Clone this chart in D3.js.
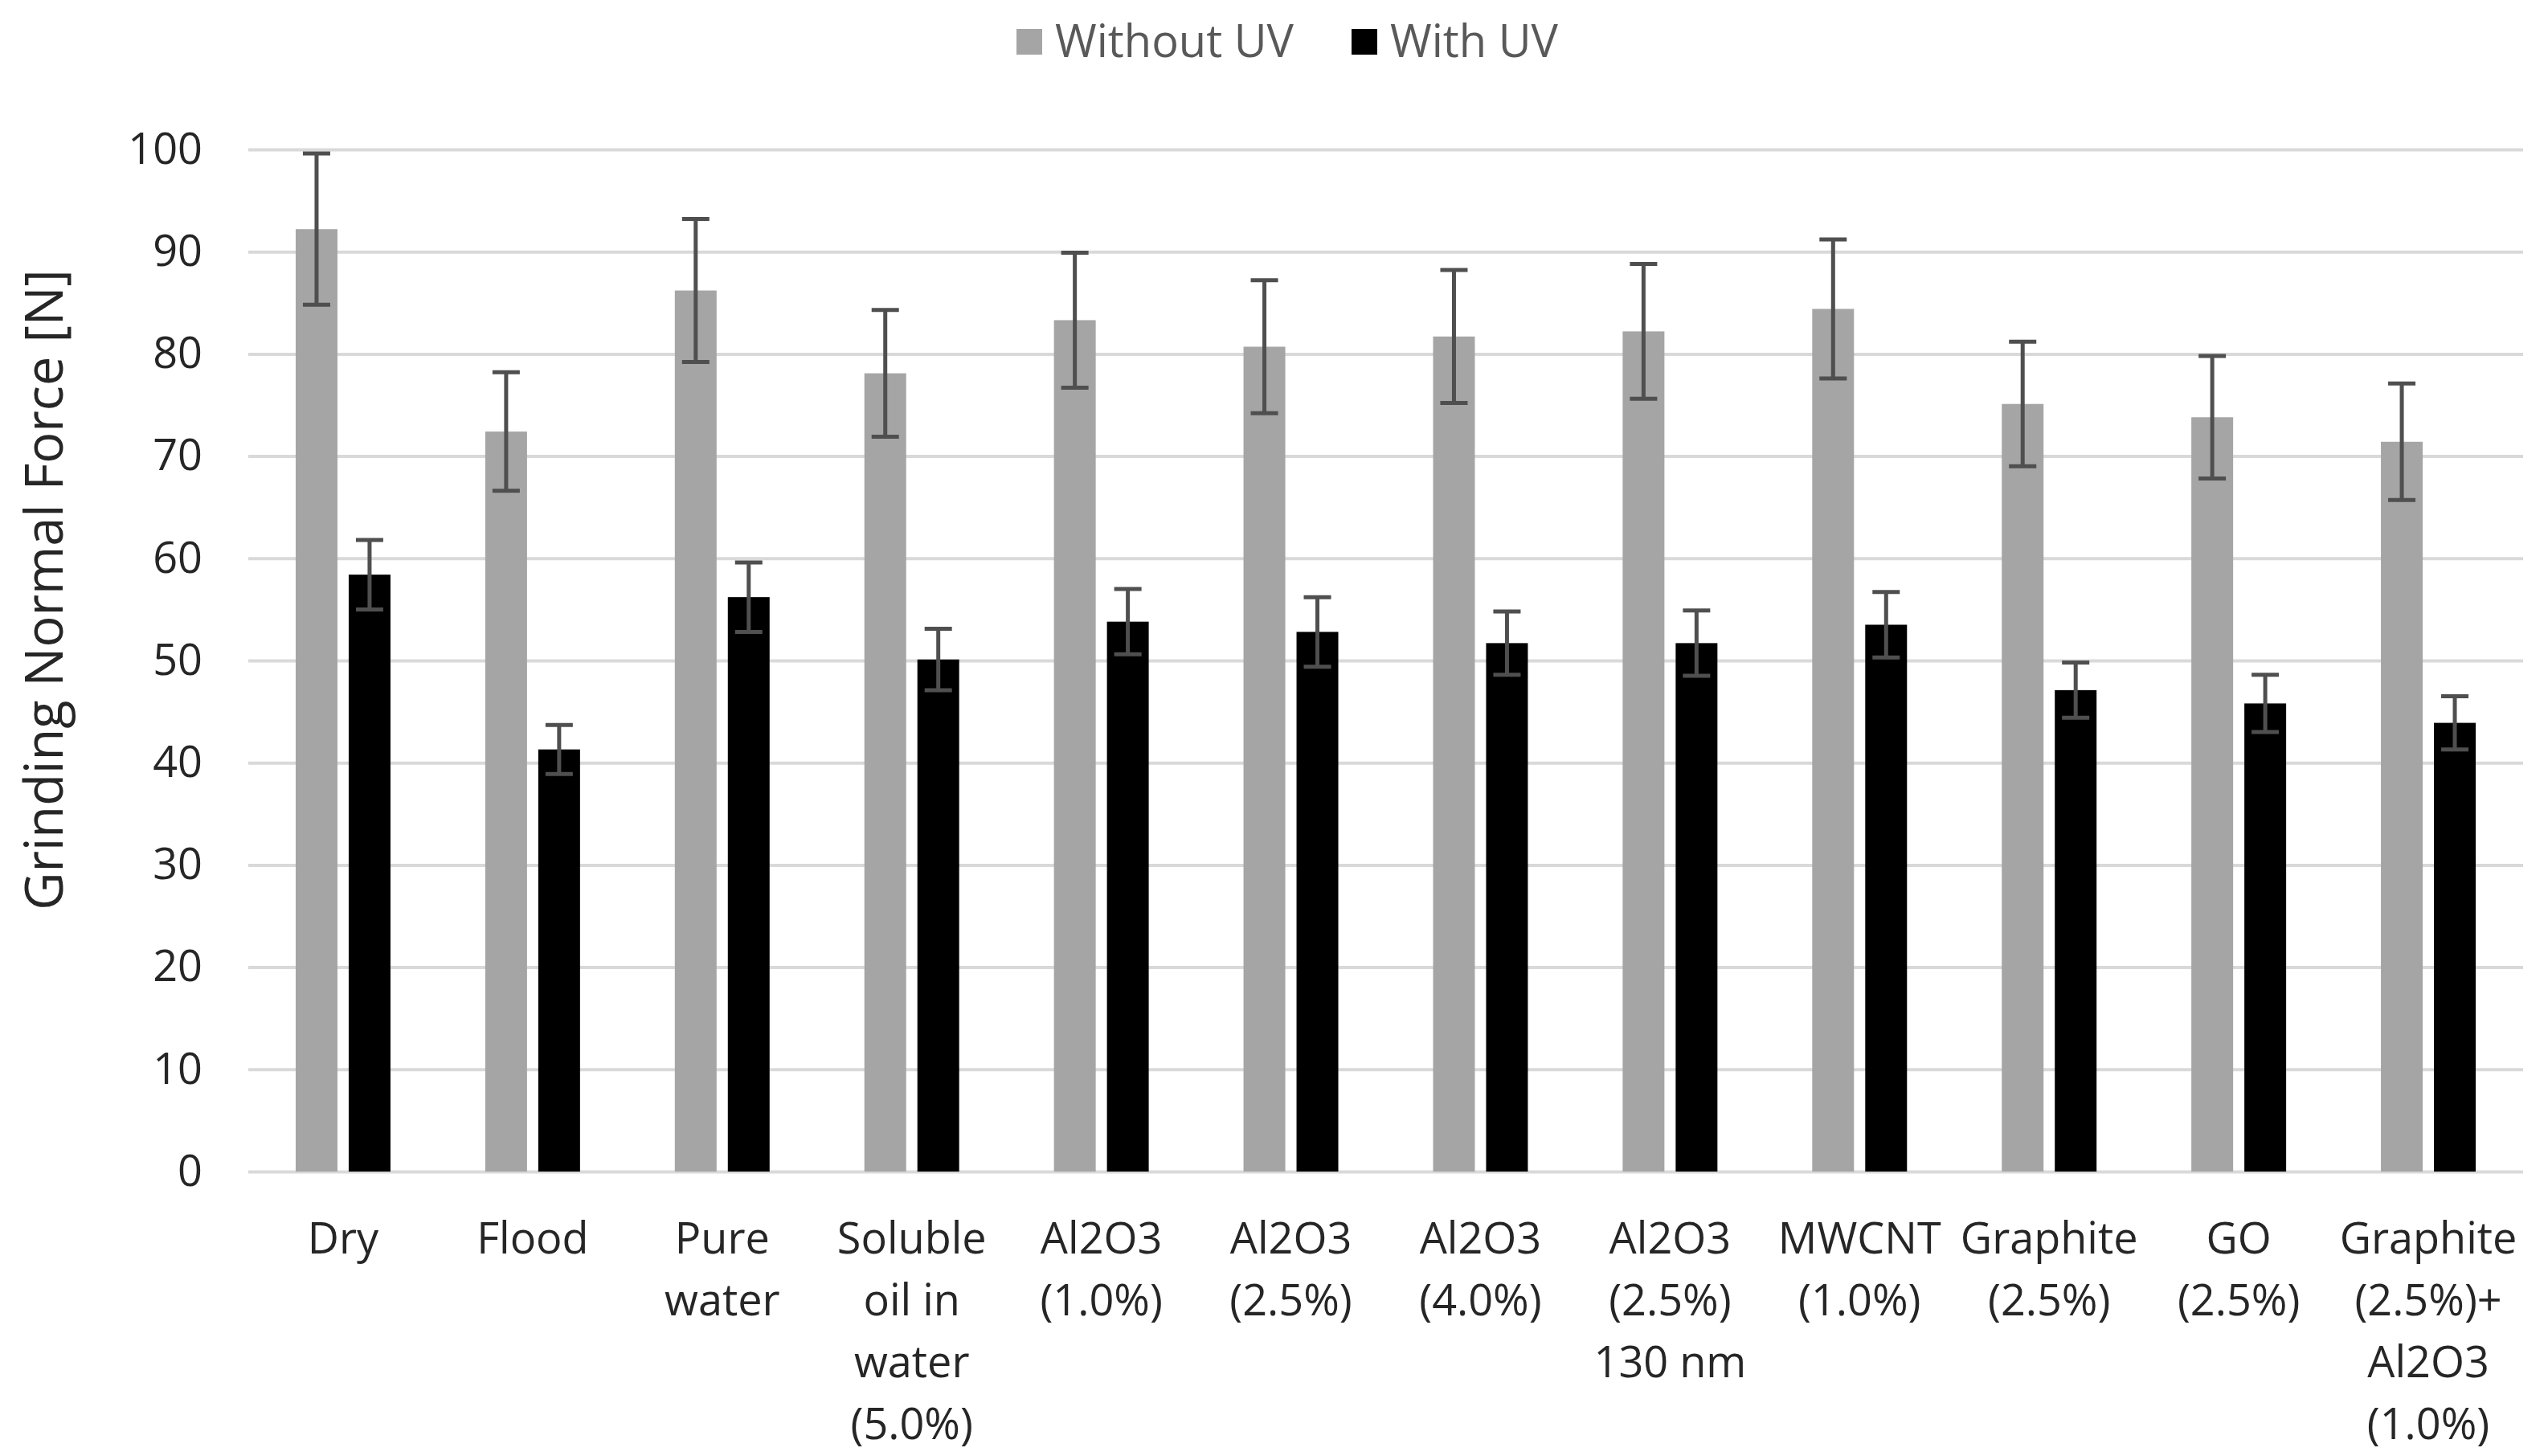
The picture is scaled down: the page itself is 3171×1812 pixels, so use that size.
<!DOCTYPE html>
<html>
<head>
<meta charset="utf-8">
<script src="https://cdn.jsdelivr.net/npm/d3@7"></script>
<style>
  body { margin: 0; background: #fff; }
  svg { display: block; }
  text { font-family: "Open Sans", "Noto Sans", sans-serif; }
</style>
</head>
<body>
<div id="chart"></div>
<script>
// ---- data ----
const categories = [
    "Dry", "Flood", "Pure\nwater", "Soluble\noil in\nwater\n(5.0%)",
    "Al2O3\n(1.0%)", "Al2O3\n(2.5%)", "Al2O3\n(4.0%)", "Al2O3\n(2.5%)\n130 nm",
    "MWCNT\n(1.0%)", "Graphite\n(2.5%)", "GO\n(2.5%)", "Graphite\n(2.5%)+\nAl2O3\n(1.0%)"
];
const seriesNames = ["Without UV", "With UV"];
const withoutUV    = [92.2, 72.4, 86.2, 78.1, 83.3, 80.7, 81.7, 82.2, 84.4, 75.1, 73.8, 71.4];
const withoutUVErr = [7.4, 5.8, 7.0, 6.2, 6.6, 6.5, 6.5, 6.6, 6.8, 6.1, 6.0, 5.7];
const withUV       = [58.4, 41.3, 56.2, 50.1, 53.8, 52.8, 51.7, 51.7, 53.5, 47.1, 45.8, 43.9];
const withUVErr    = [3.4, 2.4, 3.4, 3.0, 3.2, 3.4, 3.1, 3.2, 3.2, 2.7, 2.8, 2.6];
const yTicks = [0, 10, 20, 30, 40, 50, 60, 70, 80, 90, 100];

const colors = { "Without UV": "#a5a5a5", "With UV": "#000000" };

/*************** layout ***************/
const W = 3171, H = 1812;
const margin = { top: 186, right: 31, bottom: 354, left: 309 };
const plotW = W - margin.left - margin.right,
      plotH = H - margin.top - margin.bottom;

const svg = d3.select("#chart").append("svg")
    .attr("width", W)
    .attr("height", H);

const g = svg.append("g")
    .attr("transform", "translate(" + margin.left + "," + margin.top + ")");

const x0 = d3.scaleBand().domain(categories).range([0, plotW]);
const x1 = d3.scaleBand().domain(seriesNames).range([0, x0.bandwidth()])
    .paddingInner(0.212).paddingOuter(0.894);
const y = d3.scaleLinear().domain([0, 100]).range([plotH, 0]);

// gridlines + tick labels
const yAxis = g.append("g")
    .call(d3.axisLeft(y).tickValues(yTicks).tickSize(-plotW).tickPadding(57));
yAxis.select(".domain").remove();
yAxis.selectAll(".tick line")
    .attr("stroke", "#d9d9d9")
    .attr("stroke-width", 4);
yAxis.selectAll(".tick text")
    .attr("fill", "#262626")
    .style("font-size", "54px");

// rows per category
const rows = categories.map((c, i) => ({
    cat: c,
    vals: [
        { s: "Without UV", v: withoutUV[i], e: withoutUVErr[i] },
        { s: "With UV", v: withUV[i], e: withUVErr[i] }
    ]
}));

const groups = g.append("g").selectAll("g")
    .data(rows)
    .enter().append("g")
    .attr("transform", d => "translate(" + x0(d.cat) + ",0)");

groups.selectAll("rect")
    .data(d => d.vals)
    .enter().append("rect")
    .attr("x", d => x1(d.s))
    .attr("y", d => y(d.v))
    .attr("width", x1.bandwidth())
    .attr("height", d => y(0) - y(d.v))
    .attr("fill", d => colors[d.s]);

// error bars
const capW = 34;
const err = groups.selectAll("g.err")
    .data(d => d.vals)
    .enter().append("g")
    .attr("class", "err")
    .attr("stroke", "#4f4f4f")
    .attr("stroke-width", 5);
err.append("line")
    .attr("x1", d => x1(d.s) + x1.bandwidth() / 2)
    .attr("x2", d => x1(d.s) + x1.bandwidth() / 2)
    .attr("y1", d => y(d.v + d.e))
    .attr("y2", d => y(d.v - d.e));
err.append("line")
    .attr("x1", d => x1(d.s) + x1.bandwidth() / 2 - capW / 2)
    .attr("x2", d => x1(d.s) + x1.bandwidth() / 2 + capW / 2)
    .attr("y1", d => y(d.v + d.e))
    .attr("y2", d => y(d.v + d.e));
err.append("line")
    .attr("x1", d => x1(d.s) + x1.bandwidth() / 2 - capW / 2)
    .attr("x2", d => x1(d.s) + x1.bandwidth() / 2 + capW / 2)
    .attr("y1", d => y(d.v - d.e))
    .attr("y2", d => y(d.v - d.e));

// category labels (multi line)
const lineH = 77;
const catLabels = g.append("g").selectAll("text")
    .data(categories)
    .enter().append("text")
    .attr("text-anchor", "middle")
    .attr("fill", "#262626")
    .style("font-size", "54px")
    .attr("transform", d => "translate(" + (x0(d) + x0.bandwidth() / 2) + "," + (plotH + 102) + ")");
catLabels.each(function (d) {
    const t = d3.select(this);
    d.split("\n").forEach((ln, k) => {
        t.append("tspan").attr("x", 0).attr("y", k * lineH).text(ln);
    });
});

// y title
svg.append("text")
    .attr("text-anchor", "middle")
    .attr("transform", "translate(78,734)rotate(-90)")
    .attr("fill", "#262626")
    .style("font-size", "65px")
    .text("Grinding Normal Force [N]");

// legend
const legendPos = [1265, 1682];
const legend = svg.append("g").selectAll("g")
    .data(seriesNames)
    .enter().append("g")
    .attr("transform", (d, i) => "translate(" + legendPos[i] + ",0)");
legend.append("rect")
    .attr("x", 0).attr("y", 36)
    .attr("width", 32).attr("height", 32)
    .attr("fill", d => colors[d]);
legend.append("text")
    .attr("x", 48).attr("y", 71)
    .attr("fill", "#595959")
    .style("font-size", "56px")
    .text(d => d);
</script>
</body>
</html>
